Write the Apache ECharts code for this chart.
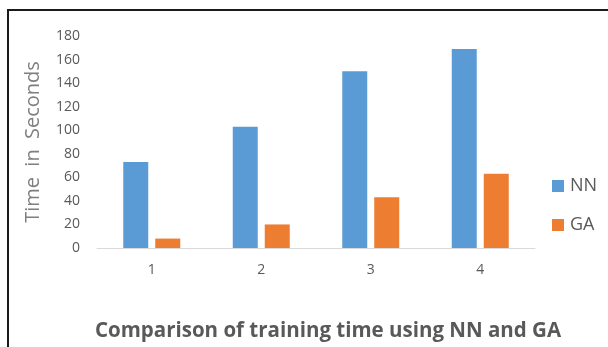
<!DOCTYPE html>
<html>
<head>
<meta charset="utf-8">
<script src="https://cdn.jsdelivr.net/npm/echarts@6/dist/echarts.min.js"></script>
<style>
html,body{margin:0;padding:0;background:#fff;}
#c{width:608px;height:347px;}
</style>
</head>
<body>
<div id="c"></div>
<script>
const categories = ['1', '2', '3', '4'];
const nnValues = [73, 103, 150, 169];
const gaValues = [8, 20, 43, 63];
const yTicks = [0, 20, 40, 60, 80, 100, 120, 140, 160, 180];

const chart = echarts.init(document.getElementById('c'));
chart.setOption({
  backgroundColor: '#fff',
  animation: false,
  graphic: [{
    type: 'rect',
    shape: {x: 8, y: 10, width: 640, height: 400},
    style: {fill: 'none', stroke: '#1a1a1a', lineWidth: 2}
  }],
  title: {
    text: 'Comparison of training time using NN and GA',
    left: 323, top: 316, textAlign: 'center',
    textStyle: {fontFamily: 'Open Sans', fontWeight: 'bold', fontSize: 20.5, color: '#595959'}
  },
  legend: {
    orient: 'vertical',
    left: 552, top: 177, padding: 0,
    itemWidth: 12, itemHeight: 12, itemGap: 21,
    icon: 'rect',
    textStyle: {fontFamily: 'Open Sans', fontSize: 18, color: '#595959', padding: [0,0,0,1]},
    data: ['NN', 'GA']
  },
  grid: {left: 97, right: 73, top: 36, bottom: 99},
  xAxis: {
    type: 'category',
    data: categories,
    axisLine: {lineStyle: {color: '#d9d9d9', width: 1}},
    axisTick: {show: false},
    axisLabel: {color: '#595959', fontFamily: 'Open Sans', fontSize: 14, margin: 15}
  },
  yAxis: {
    type: 'value',
    min: yTicks[0], max: yTicks[yTicks.length - 1], interval: 20,
    name: 'Time  in  Seconds',
    nameLocation: 'middle', nameGap: 54, nameRotate: 90,
    nameTextStyle: {fontFamily: 'Open Sans', fontSize: 20, color: '#7f7f7f'},
    axisLine: {show: false},
    axisTick: {show: false},
    splitLine: {show: false},
    axisLabel: {color: '#595959', fontFamily: 'Open Sans', fontSize: 14, margin: 17}
  },
  series: [
    {name: 'NN', type: 'bar', data: nnValues, barWidth: 25, barGap: '28%',
     itemStyle: {color: '#5b9bd5'}},
    {name: 'GA', type: 'bar', data: gaValues, barWidth: 25,
     itemStyle: {color: '#ed7d31'}}
  ]
});
</script>
</body>
</html>
